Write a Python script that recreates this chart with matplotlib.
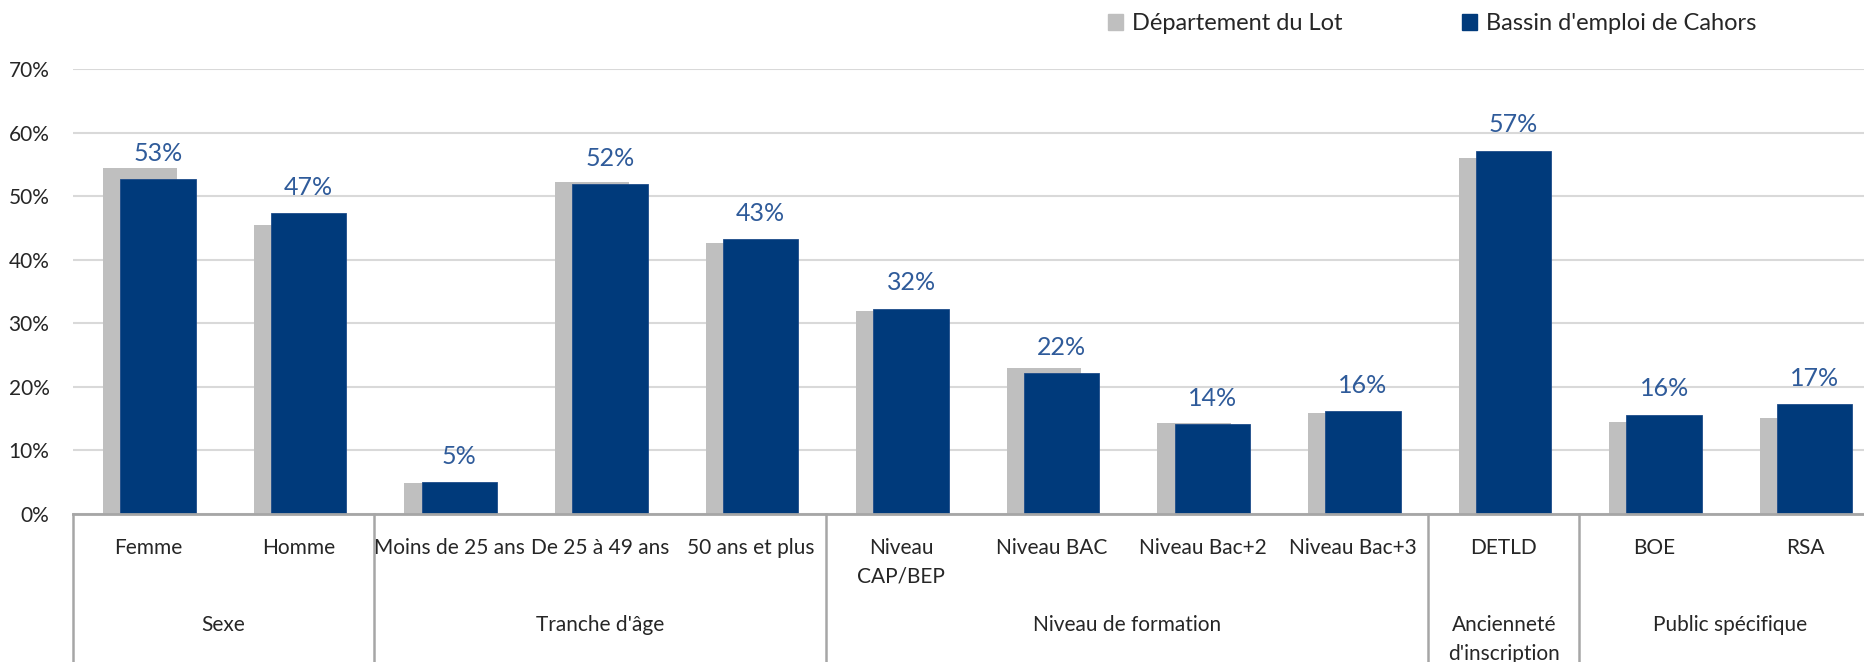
import matplotlib
matplotlib.use("Agg")
import matplotlib.pyplot as plt
from matplotlib.patches import Patch
from matplotlib.transforms import blended_transform_factory

plt.rcParams['font.family'] = ['Lato', 'DejaVu Sans']

# data (percent)
categories = ["Femme", "Homme", "Moins de 25 ans", "De 25 à 49 ans", "50 ans et plus",
              "Niveau\nCAP/BEP", "Niveau BAC", "Niveau Bac+2", "Niveau Bac+3",
              "DETLD", "BOE", "RSA"]
lot = [54.5, 45.5, 4.8, 52.3, 42.7, 31.9, 22.9, 14.3, 15.9, 56.1, 14.4, 15.1]
cahors = [52.7, 47.3, 4.9, 51.9, 43.2, 32.3, 22.2, 14.1, 16.2, 57.2, 15.6, 17.3]
groups = ["Sexe", "Tranche d'âge", "Niveau de formation", "Ancienneté\nd'inscription", "Public spécifique"]
group_sizes = [2, 3, 4, 1, 2]
series_names = ["Département du Lot", "Bassin d'emploi de Cahors"]

gray = "#BFBFBF"
navy = "#003A7B"
label_blue = "#2F5B9A"
line_gray = "#A6A6A6"
text_col = "#262626"

W, H = 1864, 662
fig = plt.figure(figsize=(W / 100, H / 100), dpi=100)
left, base, top = 73, 513.5, 69.3
cat_w = 150.6
ax = fig.add_axes([left / W, (H - base) / H, 12 * cat_w / W, (base - top) / H])

x = list(range(len(categories)))
ax.bar([i - 0.055 for i in x], lot, width=0.49, color=gray, zorder=2)
ax.bar([i + 0.065 for i in x], cahors, width=0.50, color=navy, edgecolor="#1E4C8A",
       linewidth=0.6, zorder=3)

for i, v in enumerate(cahors):
    ax.annotate(f"{v:.0f}%", (i + 0.065, v), xytext=(0, 13), textcoords="offset points",
                ha="center", va="baseline", fontsize=18, color=label_blue)

ax.set_xlim(-0.5, 11.5)
ax.set_ylim(0, 70)
ax.set_yticks(range(0, 71, 10))
ax.set_yticklabels([f"{t}%" for t in range(0, 71, 10)], fontsize=15, color=text_col)
ax.tick_params(axis="y", length=0, pad=17)
ax.tick_params(axis="x", length=0, labelbottom=False)
ax.grid(axis="y", color="#D9D9D9", linewidth=1.5, zorder=0)
ax.set_axisbelow(True)
for s in ["left", "right", "top"]:
    ax.spines[s].set_visible(False)
ax.spines["bottom"].set_color(line_gray)
ax.spines["bottom"].set_linewidth(2)
ax.spines["bottom"].set_zorder(4)

trans = blended_transform_factory(ax.transData, fig.transFigure)

# category labels
for i, c in enumerate(categories):
    ax.text(i, 1 - 538 / H, c, transform=trans, ha="center", va="top",
            fontsize=15, color=text_col, linespacing=1.55)

# group labels and separators
pos = -0.5
ax.plot([pos, pos], [1 - base / H, -0.1], transform=trans, color=line_gray,
        linewidth=1.8, clip_on=False)
for g, n in zip(groups, group_sizes):
    ax.text(pos + n / 2, 1 - 615 / H, g, transform=trans, ha="center", va="top",
            fontsize=15, color=text_col, linespacing=1.55)
    pos += n
    ax.plot([pos, pos], [1 - base / H, -0.1], transform=trans, color=line_gray,
            linewidth=1.8, clip_on=False)

# legend
handles = [Patch(color=gray), Patch(color=navy)]
for h, name, xpos in zip(handles, series_names, [1108, 1462]):
    fig.legend(handles=[h], labels=[name], loc="center left",
               bbox_to_anchor=(xpos / W, 1 - 24 / H), frameon=False,
               fontsize=17, handlelength=0.65, handleheight=0.65,
               handletextpad=0.35, borderpad=0, borderaxespad=0,
               labelcolor=text_col)

fig.savefig("out.png", dpi=100)
